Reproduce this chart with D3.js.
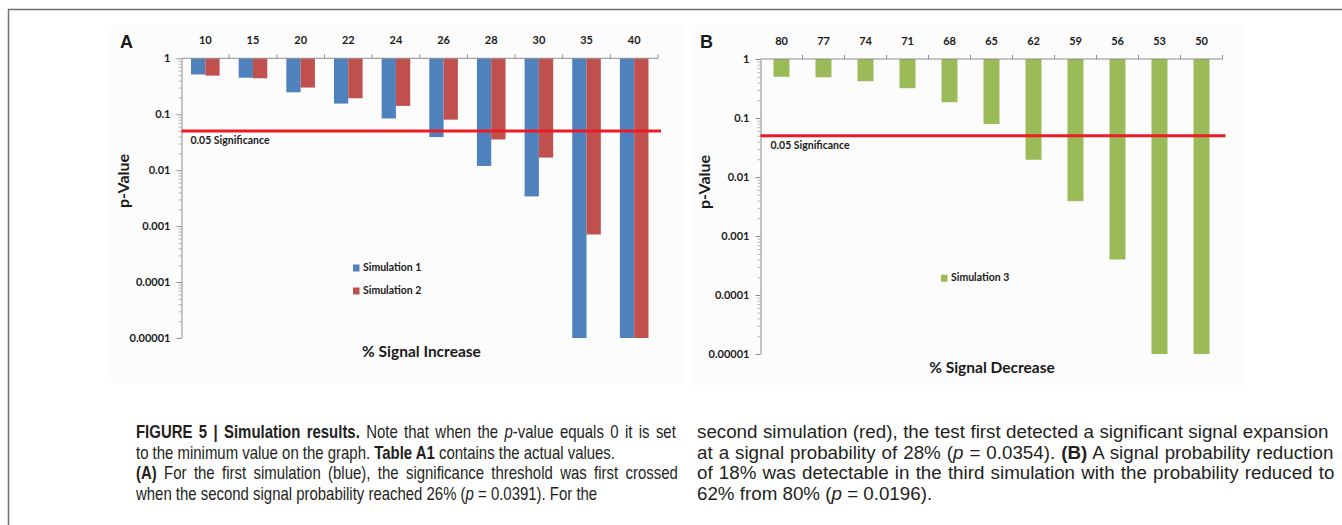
<!DOCTYPE html>
<html>
<head>
<meta charset="utf-8">
<script src="https://cdn.jsdelivr.net/npm/d3@7"></script>
<style>
  html, body { margin: 0; padding: 0; background: #ffffff; }
  svg { display: block; }
  .chart text { font-family: Lato, "Open Sans", sans-serif; font-weight: 700; fill: #1a1a1a; }
  .caption { fill: #231f20; font-family: "Liberation Sans", Arial, sans-serif; }
</style>
</head>
<body>
<svg id="fig" width="1342" height="525"></svg>
<script>
// Panel A: p-values of two simulations against the signal increase
const increaseCategories = ["10", "15", "20", "22", "24", "26", "28", "30", "35", "40"];
const simulation1 = [0.515, 0.45, 0.247, 0.155, 0.084, 0.0391, 0.0119, 0.0034, 0.00001, 0.00001];
const simulation2 = [0.49, 0.44, 0.30, 0.193, 0.141, 0.080, 0.0354, 0.0168, 0.00071, 0.00001];

// Panel B: p-values of the third simulation against the signal decrease
const decreaseCategories = ["80", "77", "74", "71", "68", "65", "62", "59", "56", "53", "50"];
const simulation3 = [0.50, 0.49, 0.42, 0.32, 0.185, 0.079, 0.0196, 0.0039, 0.0004, 0.00001, 0.00001];

// Log axis ticks shared by both panels
const pTicks = [1, 0.1, 0.01, 0.001, 0.0001, 0.00001];
const pTickLabels = ["1", "0.1", "0.01", "0.001", "0.0001", "0.00001"];
const significance = 0.05;

const colors = { sim1: "#4f81bd", sim2: "#c0504d", sim3: "#9bbb59", sig: "#ec1c24", axis: "#8c8c8c" };

const svg = d3.select("#fig");

// outer frame of the figure
svg.append("line").attr("x1", 8).attr("x2", 1342).attr("y1", 9.5).attr("y2", 9.5)
  .attr("stroke", "#6e6e6e").attr("stroke-width", 1.5);
svg.append("line").attr("x1", 8.5).attr("x2", 8.5).attr("y1", 9).attr("y2", 525)
  .attr("stroke", "#6e6e6e").attr("stroke-width", 1.5);

function drawPanel(opts) {
  const g = svg.append("g").attr("class", "chart");

  // faint backdrop of the embedded chart
  g.append("rect").attr("x", opts.bg[0]).attr("y", opts.bg[1])
    .attr("width", opts.bg[2]).attr("height", opts.bg[3]).attr("fill", "#fcfcfc");

  const x = d3.scaleBand().domain(opts.categories).range([opts.left, opts.right]).padding(0);
  const y = d3.scaleLog().domain([1e-5, 1]).range([opts.bottom, opts.top]);

  // minor log ticks
  const minor = [];
  pTicks.slice(1).forEach(d => { for (let k = 2; k <= 9; k++) minor.push(d * k); });
  g.append("g").attr("transform", `translate(${opts.left},0)`)
    .call(d3.axisLeft(y).tickValues(minor).tickSize(3).tickFormat(""))
    .call(a => a.select(".domain").remove())
    .call(a => a.selectAll("line").attr("stroke", "#b5b5b5"));

  // major y axis
  g.append("g").attr("transform", `translate(${opts.left},0)`)
    .call(d3.axisLeft(y).tickValues(pTicks).tickSize(5).tickSizeOuter(0).tickPadding(opts.yPad)
      .tickFormat((d, i) => pTickLabels[i]))
    .call(a => a.select(".domain").attr("stroke", colors.axis))
    .call(a => a.selectAll("line").attr("stroke", colors.axis))
    .call(a => a.selectAll("text").attr("font-size", 11).attr("fill", "#1a1a1a")
      .style("font-family", "Lato, sans-serif").style("font-weight", 700));

  // bars hang from p = 1
  opts.series.forEach((s, si) => {
    const bw = x.bandwidth() * opts.barFrac;
    const n = opts.series.length;
    g.append("g").selectAll("rect").data(s.values).join("rect")
      .attr("x", (d, i) => x(opts.categories[i]) + x.bandwidth() / 2 - (n * bw) / 2 + si * bw)
      .attr("y", y(1))
      .attr("width", bw)
      .attr("height", d => y(d) - y(1))
      .attr("fill", s.color);
  });

  // top category axis
  g.append("g").attr("transform", `translate(0,${opts.top})`)
    .call(d3.axisTop(x).tickSize(0).tickPadding(opts.xPad))
    .call(a => a.select(".domain").attr("stroke", colors.axis).attr("d", `M${opts.left},0H${opts.right}`))
    .call(a => a.selectAll("text").attr("font-size", 11).attr("fill", "#1a1a1a")
      .style("font-family", "Lato, sans-serif").style("font-weight", 700));
  const edges = opts.categories.map(c => x(c)).concat([opts.right]);
  g.append("g").selectAll("line").data(edges.slice(1)).join("line")
    .attr("x1", d => d).attr("x2", d => d)
    .attr("y1", opts.top).attr("y2", opts.top - 4)
    .attr("stroke", colors.axis);

  // significance threshold
  g.append("line").attr("x1", opts.left).attr("x2", opts.right + 3)
    .attr("y1", y(significance)).attr("y2", y(significance))
    .attr("stroke", colors.sig).attr("stroke-width", 3);
  g.append("text").attr("x", opts.sigLabel[0]).attr("y", opts.sigLabel[1])
    .attr("font-size", 10.5).attr("dominant-baseline", "middle")
    .text("0.05 Significance");

  // panel letter, axis titles
  g.append("text").attr("x", opts.letter[0]).attr("y", opts.letter[1])
    .attr("font-size", 18).style("font-family", "'Liberation Sans', Arial, sans-serif")
    .attr("dominant-baseline", "middle").text(opts.letterText);
  g.append("text").attr("transform", `translate(${opts.yTitle[0]},${opts.yTitle[1]}) rotate(-90)`)
    .attr("text-anchor", "middle").attr("dominant-baseline", "middle")
    .attr("font-size", 16).text("p-Value");
  g.append("text").attr("x", opts.xTitle[0]).attr("y", opts.xTitle[1])
    .attr("text-anchor", "middle").attr("dominant-baseline", "middle")
    .attr("font-size", 15.5).text(opts.xTitleText);

  // legend
  opts.series.forEach((s, i) => {
    const ly = opts.legend[1] + i * opts.legend[2];
    g.append("rect").attr("x", opts.legend[0]).attr("y", ly - 3.5)
      .attr("width", 6.5).attr("height", 7).attr("fill", s.color);
    g.append("text").attr("x", opts.legend[0] + 10).attr("y", ly)
      .attr("dominant-baseline", "middle").attr("font-size", 10.5).text(s.name);
  });
}

drawPanel({
  categories: increaseCategories,
  series: [
    { name: "Simulation 1", values: simulation1, color: colors.sim1 },
    { name: "Simulation 2", values: simulation2, color: colors.sim2 }
  ],
  left: 181.5, right: 658, top: 58.3, bottom: 338,
  barFrac: 0.3, yPad: 6, xPad: 14,
  bg: [110, 25, 573, 358],
  sigLabel: [190.5, 141.5],
  letter: [120, 43.5], letterText: "A",
  yTitle: [125, 181], xTitle: [421.5, 353.5], xTitleText: "% Signal Increase",
  legend: [353, 268, 23]
});

drawPanel({
  categories: decreaseCategories,
  series: [
    { name: "Simulation 3", values: simulation3, color: colors.sim3 }
  ],
  left: 760.5, right: 1222.5, top: 59, bottom: 354,
  barFrac: 0.38, yPad: 6, xPad: 14,
  bg: [690, 25, 555, 360],
  sigLabel: [770.5, 146],
  letter: [700, 43.5], letterText: "B",
  yTitle: [706, 182], xTitle: [992, 369.5], xTitleText: "% Signal Decrease",
  legend: [941, 278.3, 23]
});

// figure caption, two columns
const captionLeft = [
  [["FIGURE 5 | Simulation results.", "b"], [" Note that when the ", ""], ["p", "i"], ["-value equals 0 it is set", ""]],
  [["to the minimum value on the graph. ", ""], ["Table A1", "b"], [" contains the actual values.", ""]],
  [["(A)", "b"], [" For the first simulation (blue), the significance threshold was first crossed", ""]],
  [["when the second signal probability reached 26% (", ""], ["p", "i"], [" = 0.0391). For the", ""]]
];
const captionRight = [
  [["second simulation (red), the test first detected a significant signal expansion", ""]],
  [["at a signal probability of 28% (", ""], ["p", "i"], [" = 0.0354). ", ""], ["(B)", "b"], [" A signal probability reduction", ""]],
  [["of 18% was detectable in the third simulation with the probability reduced to", ""]],
  [["62% from 80% (", ""], ["p", "i"], [" = 0.0196).", ""]]
];
// set widths of the caption lines; "true" marks a justified line
const captionWidthsLeft = [540, 452, 542, 427];
const captionJustifyLeft = [true, false, true, false];
const captionWidthsRight = [631, 636, 637, 235];
const captionJustifyRight = [true, true, true, false];

function buildLine(segs, size) {
  const g = svg.append("g");
  const t = g.append("text").attr("class", "caption").attr("font-size", size);
  segs.forEach(([str, style]) => {
    const ts = t.append("tspan").text(str);
    if (style === "b") ts.attr("font-weight", 700);
    if (style === "i") ts.attr("font-style", "italic");
  });
  return { g, t, width: t.node().getComputedTextLength(), spaces: segs.map(s => s[0]).join("").split(" ").length - 1 };
}

// font size from the ragged last line of the right column
const probe = buildLine(captionRight[3], 16);
const captionSize = 16 * captionWidthsRight[3] / probe.width;
probe.g.remove();

function drawCaption(lines, widths, justify, x0, blend) {
  const built = lines.map(segs => buildLine(segs, captionSize));
  // horizontal condensing: ragged-line ratio, eased toward the justified lines
  const ratios = built.map((b, i) => widths[i] / b.width);
  const raggedRatio = d3.mean(ratios.filter((r, i) => !justify[i]));
  const fullRatio = d3.mean(ratios.filter((r, i) => justify[i]));
  const sx = raggedRatio + blend * (Math.max(fullRatio, raggedRatio) - raggedRatio);
  built.forEach((b, i) => {
    if (justify[i]) {
      const extra = (widths[i] / sx - b.width) / b.spaces;
      b.t.attr("word-spacing", extra);
    }
    b.g.attr("transform", `translate(${x0},${438 + i * 20.5}) scale(${sx},1)`);
  });
}
drawCaption(captionLeft, captionWidthsLeft, captionJustifyLeft, 136, 0.5);
drawCaption(captionRight, captionWidthsRight, captionJustifyRight, 697, 0);
</script>
</body>
</html>
